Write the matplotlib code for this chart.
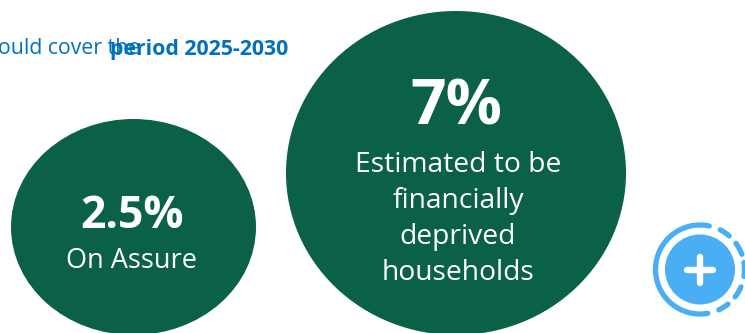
import matplotlib
matplotlib.use("Agg")
import matplotlib.pyplot as plt
from matplotlib.patches import Circle, Arc, Ellipse

plt.rcParams['font.family'] = ['Open Sans', 'DejaVu Sans']

GREEN = '#0a6148'
BLUE = '#0070c0'
ICON = '#4aaef5'

big_value = "7%"
big_lines = ["Estimated to be", "financially", "deprived", "households"]
small_value = "2.5%"
small_label = "On Assure"
header_light = "ould cover the"
header_bold = "period 2025-2030"

fig = plt.figure(figsize=(7.45, 3.33), dpi=100)
ax = fig.add_axes([0, 0, 1, 1])
ax.set_xlim(0, 745)
ax.set_ylim(333, 0)
ax.axis("off")

# two green discs, slightly squashed
ax.add_patch(Ellipse((133.5, 227), 245, 216, color=GREEN, lw=0))
ax.add_patch(Ellipse((456, 173), 340, 324, color=GREEN, lw=0))

# header, the bold part is set over the end of the regular part
ax.text(-2, 49, header_light, color=BLUE, fontsize=15.3, va='center', ha='left')
ax.text(110, 49, header_bold, color=BLUE, fontsize=15.3, va='center', ha='left',
        fontweight='bold')

ax.text(456, 108, big_value, color='white', fontsize=45, fontweight='bold',
        ha='center', va='center')
for y, line in zip([165, 201, 237, 273], big_lines):
    ax.text(458, y, line, color='white', fontsize=20.3, ha='center', va='center')

ax.text(132, 217, small_value, color='white', fontsize=32, fontweight='bold',
        ha='center', va='center')
ax.text(132, 261, small_label, color='white', fontsize=19.5, ha='center', va='center')

# plus icon with a broken ring, cut by the right edge
ax.add_patch(Circle((700, 269.5), 35, color=ICON, lw=0))
ring_kw = dict(color=ICON, lw=3.8, capstyle='round')
ax.add_patch(Arc((700, 269.5), 89, 89, theta1=80, theta2=282, **ring_kw))
for start, stop in [(-63, -49), (-36, -20), (-9, 9), (23, 38), (51, 65)]:
    ax.add_patch(Arc((700, 269.5), 89, 89, theta1=start, theta2=stop, **ring_kw))
ax.plot([687, 713], [269.5, 269.5], color='white', lw=4.6, solid_capstyle='round')
ax.plot([700, 700], [256.5, 282.5], color='white', lw=4.6, solid_capstyle='round')

fig.savefig("out.png", dpi=100)
